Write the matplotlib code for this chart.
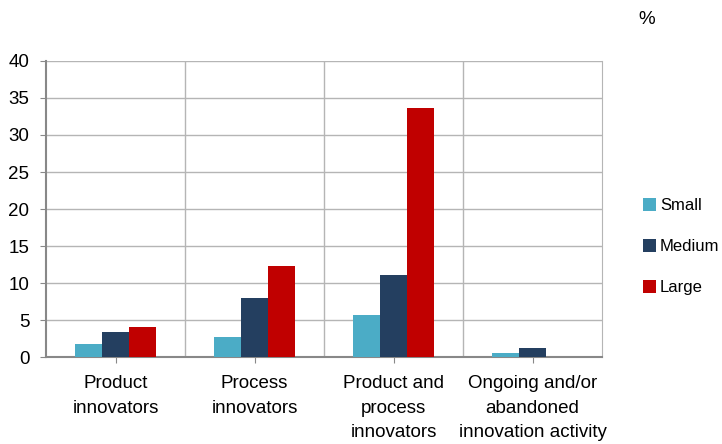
import numpy as np
import matplotlib
matplotlib.use("Agg")
import matplotlib.pyplot as plt

plt.rcParams["font.family"] = ["Liberation Sans", "DejaVu Sans"]
fs = 13.5

categories = ["Product\ninnovators", "Process\ninnovators",
              "Product and\nprocess\ninnovators",
              "Ongoing and/or\nabandoned\ninnovation activity"]
small = [1.8, 2.7, 5.7, 0.55]
medium = [3.4, 8.0, 11.1, 1.3]
large = [4.1, 12.3, 33.6, 0.0]
series = ["Small", "Medium", "Large"]
colors = ["#4BACC6", "#243F60", "#C00000"]

fig = plt.figure(figsize=(7.22, 4.44), dpi=100)
ax = fig.add_axes([0.0637, 0.195, 0.7703, 0.668])

x = np.arange(len(categories))
w = 0.193
for i, (vals, lab, c) in enumerate(zip([small, medium, large], series, colors)):
    ax.bar(x + (i - 1) * w, vals, w, color=c, label=lab, zorder=3)

ax.set_xlim(-0.5, len(categories) - 0.5)
ax.set_ylim(0, 40)
ax.set_yticks(range(0, 41, 5))
ax.set_xticks(x)
ax.set_xticklabels(categories, fontsize=fs, linespacing=1.55)
ax.tick_params(axis="y", labelsize=fs, length=4, color="#888888", pad=8)
ax.tick_params(axis="x", length=4, color="#888888", pad=9)

ax.grid(axis="y", color="#b5b5b5", linewidth=1, zorder=0)
for b in x[:-1] + 0.5:
    ax.axvline(b, color="#b5b5b5", linewidth=1, zorder=0)

ax.spines["top"].set_visible(False)
ax.spines["right"].set_color("#b5b5b5")
ax.spines["left"].set_color("#888888")
ax.spines["bottom"].set_color("#888888")
ax.spines["left"].set_linewidth(1.5)
ax.spines["bottom"].set_linewidth(1.5)

fig.text(0.895, 0.955, "%", fontsize=fs, ha="center", va="center")
fig.legend(loc="center left", bbox_to_anchor=(0.89, 0.444), frameon=False,
           fontsize=12, handlelength=0.8, handleheight=0.8, handletextpad=0.25,
           labelspacing=1.55, borderaxespad=0, borderpad=0)

fig.savefig("out.png", dpi=100)
